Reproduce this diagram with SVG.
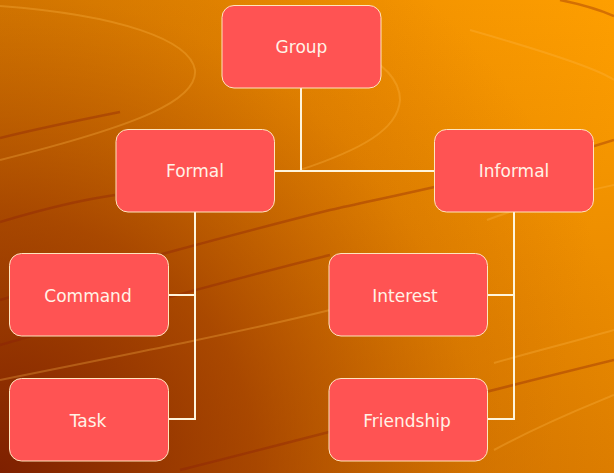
<svg xmlns="http://www.w3.org/2000/svg" width="614" height="473" viewBox="0 0 614 473">
<defs>
<linearGradient id="bg" x1="0" y1="0" x2="614" y2="120" gradientUnits="userSpaceOnUse">
<stop offset="0" stop-color="#DA7E00"/>
<stop offset="0.6" stop-color="#F29200"/>
<stop offset="1" stop-color="#FFA000"/>
</linearGradient>
<linearGradient id="vshade" x1="0" y1="0" x2="0" y2="473" gradientUnits="userSpaceOnUse">
<stop offset="0" stop-color="#A04000" stop-opacity="0"/>
<stop offset="1" stop-color="#A04000" stop-opacity="0.35"/>
</linearGradient>
<radialGradient id="dark" cx="0" cy="473" r="640" gradientUnits="userSpaceOnUse">
<stop offset="0" stop-color="#7A1C00" stop-opacity="0.95"/>
<stop offset="0.4" stop-color="#8A2800" stop-opacity="0.6"/>
<stop offset="0.75" stop-color="#A04000" stop-opacity="0.15"/>
<stop offset="1" stop-color="#A04000" stop-opacity="0"/>
</radialGradient>
<style>
.node rect{fill:#FF5353;stroke:#FFE6BE;stroke-width:1}
.node text{font-family:"DejaVu Sans",Verdana,sans-serif;font-size:17px;fill:#FFF2E6;text-anchor:middle}
.conn path{fill:none;stroke:#FFF5DC;stroke-width:2}
.lite{fill:none;stroke:#FFB84A;stroke-width:2;opacity:0.3}
.drk{fill:none;stroke:#8A1E08;stroke-width:2.5;opacity:0.35}
</style>
</defs>
<rect width="614" height="473" fill="url(#bg)"/>
<rect width="614" height="473" fill="url(#vshade)"/>
<rect width="614" height="473" fill="url(#dark)"/>
<g id="background-decor">
<path class="lite" d="M0,6 C120,15 190,40 195,70 C198,100 140,125 0,160"/>
<path class="lite" d="M230,20 C330,30 400,60 400,100 C398,130 360,150 300,170"/>
<path class="lite" d="M470,30 C540,50 600,70 614,80"/>
<path class="drk" d="M0,138 C40,128 80,120 120,112"/>
<path class="drk" d="M0,222 C40,210 80,200 115,195"/>
<path class="drk" d="M0,300 C100,270 250,230 330,210 C420,190 520,170 614,140"/>
<path class="drk" d="M0,345 C120,310 250,275 330,255"/>
<path class="lite" d="M0,380 C150,350 250,330 330,310"/>
<path class="drk" d="M180,470 C300,440 450,400 614,360"/>
<path class="lite" d="M494,363 C540,350 580,340 614,330"/>
<path class="lite" d="M494,450 C550,420 590,405 614,395"/>
<path class="drk" d="M560,0 C585,5 600,10 614,16"/>
<path class="lite" d="M487,220 C540,200 590,190 614,185"/>
</g>
<g class="conn" id="connectors">
<path d="M301,88 V171"/>
<path d="M274.5,171 H434.5"/>
<path d="M195,212 V419 H168.5"/>
<path d="M168.5,295 H195"/>
<path d="M514,212 V419 H487.5"/>
<path d="M487.5,295 H514"/>
</g>
<g class="node" id="node-group"><rect x="222" y="5.5" width="159" height="82.5" rx="12"/><text x="301.5" y="53">Group</text></g>
<g class="node" id="node-formal"><rect x="116" y="129.5" width="158.5" height="82.5" rx="12"/><text x="195" y="177">Formal</text></g>
<g class="node" id="node-informal"><rect x="434.5" y="129.5" width="159" height="82.5" rx="12"/><text x="514" y="177">Informal</text></g>
<g class="node" id="node-command"><rect x="9.5" y="253.5" width="159" height="82.5" rx="12"/><text x="88" y="301.5">Command</text></g>
<g class="node" id="node-task"><rect x="9.5" y="378.5" width="159" height="82.5" rx="12"/><text x="88" y="426.5">Task</text></g>
<g class="node" id="node-interest"><rect x="329" y="253.5" width="158.5" height="82.5" rx="12"/><text x="405" y="301.5">Interest</text></g>
<g class="node" id="node-friendship"><rect x="329" y="378.5" width="158.5" height="82.5" rx="12"/><text x="407" y="426.5">Friendship</text></g>
</svg>
